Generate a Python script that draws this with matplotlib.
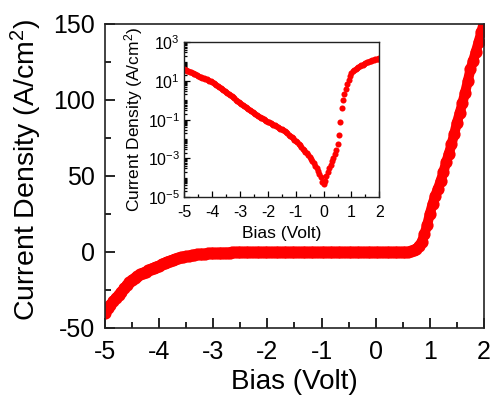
import numpy as np
import matplotlib
matplotlib.use("Agg")
import matplotlib.pyplot as plt
from matplotlib.ticker import MultipleLocator, FixedLocator, LogLocator, NullFormatter

plt.rcParams['font.family'] = ['Liberation Sans', 'DejaVu Sans']
plt.rcParams['mathtext.fontset'] = 'custom'
plt.rcParams['mathtext.rm'] = 'Liberation Sans'
plt.rcParams['mathtext.it'] = 'Liberation Sans:italic'
plt.rcParams['axes.unicode_minus'] = False

# bias grid (V), 0.05 V steps from -5 to 2
bias = np.linspace(-5.0, 2.0, 141)

log_j = [
    1.60, 1.57, 1.54, 1.51, 1.48, 1.45, 1.42, 1.38, 1.34, 1.30,   # -5.00 .. -4.55
    1.26, 1.23, 1.20, 1.17, 1.14, 1.11, 1.08, 1.05, 1.01, 0.98,   # -4.50 .. -4.05
    0.95, 0.90, 0.85, 0.80, 0.75, 0.70, 0.65, 0.60, 0.55, 0.50,   # -4.00 .. -3.55
    0.45, 0.39, 0.33, 0.27, 0.21, 0.15, 0.10, 0.04, -0.02, -0.07,  # -3.50 .. -3.05
    -0.12, -0.18, -0.23, -0.29, -0.35, -0.40, -0.46, -0.51, -0.57, -0.62,  # -3.00 .. -2.55
    -0.68, -0.72, -0.77, -0.81, -0.85, -0.89, -0.93, -0.97, -1.02, -1.06,  # -2.50 .. -2.05
    -1.10, -1.14, -1.18, -1.22, -1.26, -1.30, -1.34, -1.38, -1.42, -1.46,  # -2.00 .. -1.55
    -1.50, -1.55, -1.60, -1.66, -1.71, -1.77, -1.83, -1.89, -1.96, -2.03,  # -1.50 .. -1.05
    -2.10, -2.17, -2.25, -2.33, -2.41, -2.50, -2.58, -2.67, -2.75, -2.84,  # -1.00 .. -0.55
    -2.93, -3.04, -3.15, -3.26, -3.38, -3.50, -3.64, -3.79, -3.95, -4.20,  # -0.50 .. -0.05
    -4.32, -4.15, -3.90, -3.70, -3.50, -3.32, -3.15, -2.98, -2.80, -2.58,  # 0.00 .. 0.45
    -2.28, -1.80, -1.10, -0.40, 0.02, 0.32, 0.60, 0.82, 1.07, 1.25,       # 0.50 .. 0.95
    1.40, 1.50, 1.57, 1.62, 1.67, 1.72, 1.77, 1.81, 1.85, 1.89,           # 1.00 .. 1.45
    1.93, 1.96, 1.99, 2.02, 2.05, 2.08, 2.10, 2.12, 2.14, 2.16,           # 1.50 .. 1.95
    2.18,                                                                 # 2.00
]

abs_j = 10.0 ** np.array(log_j)
current = np.where(bias < 0, -abs_j, abs_j)

red = '#ff0000'

fig = plt.figure(figsize=(4.91, 3.98), dpi=100, facecolor='white')

# 主图
ax = fig.add_axes([0.2138, 0.1759, 0.7719, 0.7638])
ax.plot(bias, current, '-', lw=7.2, color=red, solid_capstyle='round')
ax.plot(bias, current, 'o', ms=8.8, color=red, mec=red, mew=0)
ax.set_xlim(-5, 2)
ax.set_ylim(-50, 150)
ax.xaxis.set_major_locator(MultipleLocator(1))
ax.xaxis.set_minor_locator(MultipleLocator(0.5))
ax.yaxis.set_major_locator(MultipleLocator(50))
ax.yaxis.set_minor_locator(MultipleLocator(25))
ax.tick_params(which='both', direction='in', top=False, right=False, width=1.2, labelsize=18)
ax.tick_params(axis='x', pad=9)
ax.tick_params(axis='y', pad=7)
ax.tick_params(which='major', length=7)
ax.tick_params(which='minor', length=4)
for s in ax.spines.values():
    s.set_linewidth(1.2)
    s.set_color('#222222')
ax.set_xlabel('Bias (Volt)', fontsize=20)
ax.set_ylabel('Current Density (A/cm$^2$)', fontsize=20.5)
ax.xaxis.set_label_coords(0.5, -0.135)
ax.yaxis.set_label_coords(-0.16, 0.52)

# 插图（对数坐标）
ins = fig.add_axes([0.3754, 0.505, 0.3971, 0.3887])
ins.plot(bias, abs_j, 'o', ms=4.4, color=red, mec=red, mew=0)
ins.set_yscale('log')
ins.set_xlim(-5, 2)
ins.set_ylim(1e-5, 1e3)
ins.xaxis.set_major_locator(MultipleLocator(1))
ins.xaxis.set_minor_locator(MultipleLocator(0.5))
ins.yaxis.set_major_locator(FixedLocator([1e-5, 1e-3, 1e-1, 1e1, 1e3]))
ins.yaxis.set_minor_locator(LogLocator(base=10, subs=np.arange(1, 10), numticks=50))
ins.yaxis.set_minor_formatter(NullFormatter())
ins.set_yticklabels(['$10^{-5}$', '$10^{-3}$', '$10^{-1}$', '$10^{1}$', '$10^{3}$'])
ins.tick_params(which='both', direction='in', top=False, right=False, width=0.9, labelsize=11.5)
ins.tick_params(axis='x', pad=6)
ins.tick_params(axis='y', pad=3)
ins.tick_params(which='major', length=4)
ins.tick_params(which='minor', length=2)
for s in ins.spines.values():
    s.set_linewidth(1.0)
    s.set_color('#222222')
ins.set_xlabel('Bias (Volt)', fontsize=12.5, labelpad=4)
ins.set_ylabel('Current Density (A/cm$^2$)', fontsize=12.5, labelpad=2)

fig.savefig('out.png', dpi=100, facecolor='white')
